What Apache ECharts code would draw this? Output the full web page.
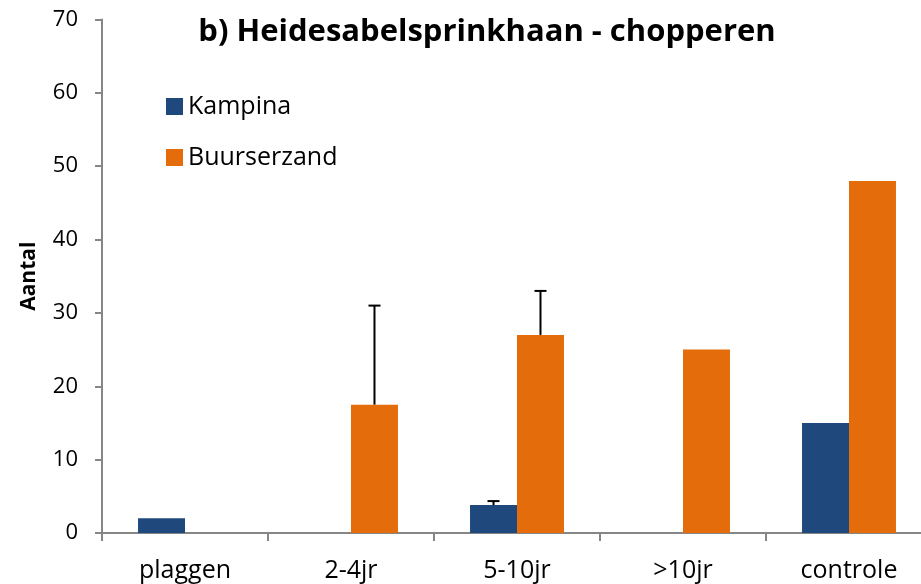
<!DOCTYPE html>
<html>
<head>
<meta charset="utf-8">
<script src="https://cdn.jsdelivr.net/npm/echarts@6/dist/echarts.min.js"></script>
<style>html,body{margin:0;padding:0;background:#fff}#c{width:921px;height:584px}</style>
</head>
<body>
<div id="c"></div>
<script>
const categories = ['plaggen', '2-4jr', '5-10jr', '>10jr', 'controle'];
const kampina = [2, 0, 3.8, 0, 15];
const buurserzand = [0, 17.5, 27, 25, 48];
const kampinaErr = [null, null, 0.55, null, null];
const buurserzandErr = [null, 13.5, 6, null, null];
const yTicks = [0, 10, 20, 30, 40, 50, 60, 70];

const FONT = 'Open Sans';
const GAP = 0.434;
const chart = echarts.init(document.getElementById('c'));

function errSeries(name, vals, errs, side) {
  const data = [];
  categories.forEach((c, i) => {
    if (errs[i] != null) data.push([i, vals[i], vals[i] + errs[i]]);
  });
  return {
    type: 'custom', name: name + ' err', silent: true, z: 5,
    data: data,
    encode: { x: 0, y: [1, 2] },
    renderItem: function (params, api) {
      const ci = api.value(0);
      const catW = api.size([1, 0])[0];
      const bw = catW * (1 - GAP) / 2;
      const base = api.coord([ci, api.value(1)]);
      const top = api.coord([ci, api.value(2)]);
      const x = base[0] + side * bw / 2;
      const cap = 6;
      const st = { stroke: '#000', lineWidth: 2 };
      return {
        type: 'group',
        children: [
          { type: 'line', shape: { x1: x, y1: base[1], x2: x, y2: top[1] }, style: st },
          { type: 'line', shape: { x1: x - cap, y1: top[1], x2: x + cap, y2: top[1] }, style: st }
        ]
      };
    }
  };
}

chart.setOption({
  animation: false,
  title: {
    text: 'b) Heidesabelsprinkhaan - chopperen',
    left: 482, top: 12, textAlign: 'center',
    textStyle: { fontFamily: FONT, fontWeight: 'bold', fontSize: 31, color: '#000' }
  },
  legend: {
    orient: 'vertical', left: 161, top: 89,
    itemWidth: 17, itemHeight: 17, itemGap: 26,
    icon: 'rect',
    data: ['Kampina', 'Buurserzand'],
    textStyle: { fontFamily: FONT, fontSize: 25, color: '#000', padding: [0, 0, 0, 0] }
  },
  grid: { left: 102, right: -11, top: 19.5, bottom: 51, containLabel: false, outerBoundsMode: 'none' },
  xAxis: {
    type: 'category', data: categories,
    axisLine: { lineStyle: { color: '#868686', width: 2 } },
    axisTick: { show: true, length: 8, lineStyle: { color: '#868686', width: 2 } },
    axisLabel: { fontFamily: FONT, fontSize: 25, color: '#000', margin: 25 }
  },
  yAxis: {
    type: 'value', min: 0, max: 70, interval: 10,
    name: 'Aantal', nameLocation: 'middle', nameGap: 62, nameRotate: 90,
    nameTextStyle: { fontFamily: FONT, fontWeight: 'bold', fontSize: 21, color: '#000' },
    axisLine: { show: true, lineStyle: { color: '#868686', width: 2 } },
    axisTick: { show: true, length: 7, lineStyle: { color: '#868686', width: 2 } },
    splitLine: { show: false },
    axisLabel: {
      fontFamily: FONT, fontSize: 22, color: '#000', margin: 24,
      formatter: v => yTicks.includes(v) ? String(v) : ''
    }
  },
  series: [
    { name: 'Kampina', type: 'bar', data: kampina, barGap: '0%', barCategoryGap: (GAP * 100) + '%',
      itemStyle: { color: '#1F497D' } },
    { name: 'Buurserzand', type: 'bar', data: buurserzand, barGap: '0%', barCategoryGap: (GAP * 100) + '%',
      itemStyle: { color: '#E46C0A' } },
    errSeries('Kampina', kampina, kampinaErr, -1),
    errSeries('Buurserzand', buurserzand, buurserzandErr, 1)
  ]
});
</script>
</body>
</html>
